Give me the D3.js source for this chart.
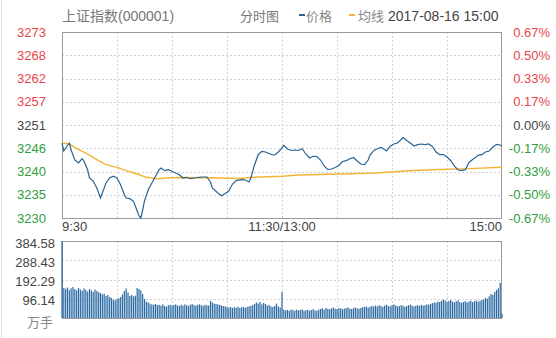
<!DOCTYPE html>
<html>
<head>
<meta charset="utf-8">
<script src="https://cdn.jsdelivr.net/npm/d3@7"></script>
<style>
body{margin:0;background:#fff;}
svg{display:block;font-family:"Liberation Sans","Noto Sans CJK SC",sans-serif;}
</style>
</head>
<body>
<script>
const width = 556;
const height = 338;

// 昨收, 涨跌幅区间
const preClose = 3251.26;
const pctRange = 0.0067;

const priceTicks = ["3273","3268","3262","3257","3251","3246","3240","3235","3230"];
const pctTicks = ["0.67%","0.50%","0.33%","0.17%","0.00%","-0.17%","-0.33%","-0.50%","-0.67%"];
const volTicks = ["384.58","288.43","192.29","96.14"];
const volTickVals = [384.58,288.43,192.29,96.14];
const timeLabels = ["9:30","11:30/13:00","15:00"];
const timeLabelMin = [0,120,240];

// 价格 (分钟序号 0..240)
const priceMin = [0,1,2,4,5,7,9,11,12,14,15,17,19,21,22,24,26,28,30,32,34,35,37,39,40,41,42,43,44,45,47,49,51,53,54,56,58,60,62,64,66,68,70,72,75,77,79,81,82,85,87,89,91,93,95,98,100,102,103,105,107,109,111,113,115,116,118,119,121,123,125,127,129,131,133,135,137,139,141,143,145,147,149,151,153,155,157,159,161,163,165,167,168,170,172,174,176,177,179,181,183,185,186,188,190,192,194,196,198,200,202,204,206,208,210,212,214,216,218,220,222,224,227,229,231,233,235,237,239,240];
const priceVal = [3247.04,3245.17,3245.87,3247.04,3245.40,3243.06,3242.36,3243.37,3242.83,3240.72,3238.85,3238.14,3236.51,3234.16,3235.33,3237.68,3238.85,3239.25,3238.85,3237.21,3234.94,3234.16,3234.00,3233.39,3232.29,3231.12,3229.95,3229.48,3231.35,3233.46,3236.04,3237.68,3239.25,3240.79,3241.19,3240.56,3240.79,3240.42,3240.02,3239.62,3238.85,3239.01,3238.68,3238.85,3239.01,3239.08,3239.08,3237.91,3236.51,3235.33,3234.70,3235.22,3235.80,3237.44,3238.22,3238.45,3238.38,3237.91,3238.85,3241.89,3244.30,3245.10,3244.94,3244.59,3244.23,3244.23,3244.94,3245.40,3246.46,3245.64,3245.29,3245.40,3245.29,3245.71,3244.47,3243.53,3243.93,3243.88,3243.06,3241.66,3240.79,3240.96,3241.31,3241.77,3242.71,3242.90,3243.37,3243.65,3242.83,3242.13,3241.96,3243.06,3244.23,3245.24,3245.71,3245.99,3245.52,3245.17,3246.27,3246.81,3247.04,3247.86,3248.33,3247.63,3247.04,3246.34,3246.65,3246.81,3246.65,3246.81,3246.22,3244.94,3244.30,3244.35,3243.77,3242.95,3241.66,3240.72,3240.56,3240.79,3242.48,3243.18,3244.16,3244.30,3244.94,3245.17,3246.04,3246.74,3246.58,3246.27];

// 均线
const avgMin = [0,4,8,13,19,24,30,35,41,46,52,57,64,80,97,104,120,129,158,171,189,202,222,240];
const avgVal = [3247.04,3246.81,3245.71,3244.70,3243.13,3241.96,3241.35,3240.56,3239.78,3239.01,3238.68,3238.85,3238.97,3238.92,3238.73,3239.01,3239.25,3239.55,3239.85,3240.02,3240.56,3240.79,3241.03,3241.35];

// 成交量 (万手), 每分钟一根
const volume = [384.58,
  150,146,152,140,148,155,144,138,150,142,136,148,140,132,145,138,130,142,135,128,
  125,118,122,110,115,105,100,
  92,88,95,98,105,
  118,135,148,128,
  110,115,108,112,
  150,145,138,120,
  95,82,78,
  72,68,66,70,64,66,62,68,60,56,64,66,62,65,68,63,60,
  66,62,68,64,60,66,70,64,62,66,68,64,60,66,64,62,
  85,78,72,70,68,66,62,60,
  58,55,52,55,50,54,52,56,50,53,55,51,56,58,60,64,
  70,78,72,80,68,75,70,62,65,
  58,55,60,72,58,52,
  131,
  42,38,40,36,42,39,37,41,38,40,43,36,39,41,37,40,44,38,36,42,
  45,48,42,50,46,44,48,52,47,45,50,48,44,46,50,53,47,45,49,52,48,46,50,54,55,58,52,56,60,58,
  62,58,64,60,56,62,66,60,58,64,68,62,58,60,64,62,56,60,64,66,62,58,62,64,60,66,62,64,68,66,
  70,74,78,76,82,80,86,92,88,80,85,90,82,78,84,88,80,76,
  80,84,78,82,86,80,84,88,82,86,90,92,
  100,96,108,120,115,130,140,148,175,
  22];

const plotLeft = 62, plotRight = 502;
const plotTop = 32, mainBottom = 218;
const volTop = 241, volBottom = 318;

const red = "#e8464b", green = "#2f9e3a", gray = "#444";
const lineBlue = "#2a6496", avgOrange = "#f5b335";

const svg = d3.select("body").append("svg")
    .attr("width", width).attr("height", height);

const x = d3.scaleLinear().domain([0, 240]).range([plotLeft, plotRight]);
const y = d3.scaleLinear()
    .domain([preClose * (1 - pctRange), preClose * (1 + pctRange)])
    .range([mainBottom, plotTop]);
const yv = d3.scaleLinear().domain([0, volTickVals[0]]).range([volBottom, volTop]);

// 左侧浅色边线
svg.append("line").attr("x1", 1.5).attr("x2", 1.5).attr("y1", 0).attr("y2", height)
   .attr("stroke", "#ddd");

// 价格刻度值 (等分 8 格)
const [lo, hi] = y.domain();
const tickVal = priceTicks.map((t, i) => hi - i * (hi - lo) / 8);

function tickColor(i) {
    if (i < 4) return red;
    if (i === 4) return gray;
    return green;
}

// 网格
const grid = svg.append("g").attr("stroke", "#d4d4d4").attr("stroke-dasharray", "2,2");
grid.selectAll(".hg").data(tickVal.slice(1, 8)).enter().append("line")
    .attr("x1", plotLeft).attr("x2", plotRight)
    .attr("y1", d => Math.round(y(d)) + 0.5).attr("y2", d => Math.round(y(d)) + 0.5);
grid.selectAll(".vg").data(d3.range(30, 240, 30)).enter().append("line")
    .attr("x1", d => Math.round(x(d)) + 0.5).attr("x2", d => Math.round(x(d)) + 0.5)
    .attr("y1", plotTop).attr("y2", mainBottom);
grid.selectAll(".vhg").data(volTickVals.slice(1)).enter().append("line")
    .attr("x1", plotLeft).attr("x2", plotRight)
    .attr("y1", d => Math.round(yv(d)) + 0.5).attr("y2", d => Math.round(yv(d)) + 0.5);
grid.selectAll(".vvg").data(d3.range(30, 240, 30)).enter().append("line")
    .attr("x1", d => Math.round(x(d)) + 0.5).attr("x2", d => Math.round(x(d)) + 0.5)
    .attr("y1", volTop).attr("y2", volBottom);

// 边框
svg.append("rect").attr("x", plotLeft + 0.5).attr("y", plotTop + 0.5)
   .attr("width", plotRight - plotLeft - 1).attr("height", mainBottom - plotTop)
   .attr("fill", "none").attr("stroke", "#999");
svg.append("rect").attr("x", plotLeft + 0.5).attr("y", volTop + 0.5)
   .attr("width", plotRight - plotLeft - 1).attr("height", volBottom - volTop)
   .attr("fill", "none").attr("stroke", "#999");

// 左右刻度
svg.append("g").selectAll("text").data(priceTicks).enter().append("text")
   .attr("x", 46).attr("y", (d, i) => y(tickVal[i]))
   .attr("dy", "0.36em").attr("text-anchor", "end")
   .attr("font-size", 13).attr("fill", (d, i) => tickColor(i))
   .text(d => d);

svg.append("g").selectAll("text").data(pctTicks).enter().append("text")
   .attr("x", 550).attr("y", (d, i) => y(tickVal[i]))
   .attr("dy", "0.36em").attr("text-anchor", "end")
   .attr("font-size", 13).attr("fill", (d, i) => tickColor(i))
   .text(d => d);

// 时间轴
svg.append("g").selectAll("text").data(timeLabels).enter().append("text")
   .attr("x", (d, i) => x(timeLabelMin[i]))
   .attr("y", 231)
   .attr("text-anchor", (d, i) => i === 0 ? "start" : (i === 2 ? "end" : "middle"))
   .attr("font-size", 13).attr("fill", gray)
   .text(d => d);

// 成交量刻度
svg.append("g").selectAll("text").data(volTicks).enter().append("text")
   .attr("x", 55).attr("y", (d, i) => yv(volTickVals[i]) + 2)
   .attr("dy", "0.36em").attr("text-anchor", "end")
   .attr("font-size", 13).attr("fill", gray)
   .text(d => d);
svg.append("text").attr("x", 53).attr("y", 327).attr("text-anchor", "end")
   .attr("font-size", 13).attr("fill", "#888").text("万手");

// 成交量柱
svg.append("g").selectAll("rect").data(volume).enter().append("rect")
   .attr("x", (d, i) => x(i) - 0.6)
   .attr("width", 1.2)
   .attr("y", d => yv(d))
   .attr("height", d => volBottom - yv(d))
   .attr("fill", "#2a6aa3");

// 均线
const avgData = avgMin.map((m, i) => [m, avgVal[i]]);
svg.append("path").datum(avgData)
   .attr("d", d3.line().x(d => x(d[0])).y(d => y(d[1])))
   .attr("fill", "none").attr("stroke", avgOrange).attr("stroke-width", 1.4);

// 价格线
const priceData = priceMin.map((m, i) => [m, priceVal[i]]);
svg.append("path").datum(priceData)
   .attr("d", d3.line().x(d => x(d[0])).y(d => y(d[1])))
   .attr("fill", "none").attr("stroke", lineBlue).attr("stroke-width", 1.2);

// 标题与图例
const head = svg.append("g").attr("font-size", 13);
head.append("text").attr("x", 62).attr("y", 21).attr("font-size", 14).attr("fill", "#777").text("上证指数(000001)");
head.append("text").attr("x", 240).attr("y", 21).attr("fill", "#777").text("分时图");
head.append("rect").attr("x", 299).attr("y", 14).attr("width", 6).attr("height", 2).attr("fill", lineBlue);
head.append("text").attr("x", 306).attr("y", 21).attr("fill", "#888").text("价格");
head.append("rect").attr("x", 349).attr("y", 14).attr("width", 6).attr("height", 2).attr("fill", avgOrange);
head.append("text").attr("x", 358).attr("y", 21).attr("fill", "#888").text("均线");
head.append("text").attr("x", 388).attr("y", 21).attr("font-size", 14).attr("fill", "#444").text("2017-08-16 15:00");
</script>
</body>
</html>
